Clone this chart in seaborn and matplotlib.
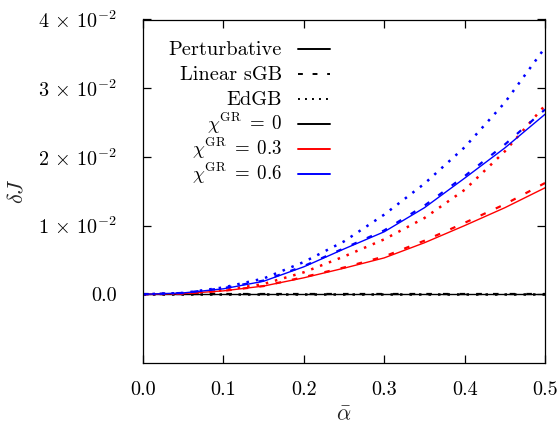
import matplotlib
matplotlib.use("Agg")
import matplotlib.pyplot as plt
from matplotlib.lines import Line2D
import seaborn as sns
import numpy as np

sns.set_theme(style="ticks")
plt.rcParams['font.family'] = ['cmr10', 'DejaVu Serif']
plt.rcParams['mathtext.fontset'] = 'cm'
plt.rcParams['axes.formatter.use_mathtext'] = True

alpha = [0.0, 0.05, 0.1, 0.15, 0.2, 0.25, 0.3, 0.35, 0.4, 0.45, 0.5]

# chi^GR = 0 : all vanish
pert_0 = [0.0] * 11
lin_0 = [0.0] * 11
edgb_0 = [0.0] * 11

# chi^GR = 0.3
pert_03 = [0.0, 0.0001, 0.0005, 0.0012, 0.0024, 0.0038, 0.0053, 0.0075, 0.0100, 0.0126, 0.0155]
lin_03 = [0.0, 0.0001, 0.0005, 0.0012, 0.0025, 0.0039, 0.0055, 0.0078, 0.0104, 0.0131, 0.0162]
edgb_03 = [0.0, 0.0001, 0.0006, 0.0015, 0.0032, 0.0055, 0.0080, 0.0111, 0.0152, 0.0208, 0.0275]

# chi^GR = 0.6
pert_06 = [0.0, 0.0002, 0.0008, 0.0019, 0.0040, 0.0066, 0.0091, 0.0126, 0.0169, 0.0213, 0.0262]
lin_06 = [0.0, 0.0002, 0.0009, 0.0020, 0.0041, 0.0067, 0.0093, 0.0129, 0.0172, 0.0218, 0.0269]
edgb_06 = [0.0, 0.0002, 0.0010, 0.0023, 0.0047, 0.0077, 0.0116, 0.0161, 0.0214, 0.0279, 0.0359]

models = ["Perturbative", "Linear sGB", "EdGB"]
chi_labels = [r"$\chi^{\rm GR}\;=\;0$", r"$\chi^{\rm GR}\;=\;0.3$", r"$\chi^{\rm GR}\;=\;0.6$"]
colors = ["black", "#ff0000", "#0000ff"]

series = {
    (0, 0): pert_0, (0, 1): lin_0, (0, 2): edgb_0,
    (1, 0): pert_03, (1, 1): lin_03, (1, 2): edgb_03,
    (2, 0): pert_06, (2, 1): lin_06, (2, 2): edgb_06,
}

style_ls = {0: "-", 1: (0, (2.5, 5)), 2: (0, (1, 2.8))}
style_lw = {0: 1.0, 1: 1.6, 2: 1.8}

xticks = [0.0, 0.1, 0.2, 0.3, 0.4, 0.5]
xticklabels = ["0.0", "0.1", "0.2", "0.3", "0.4", "0.5"]
yticks = [0.0, 0.01, 0.02, 0.03, 0.04]
yticklabels = ["0.0", r"$1\,\times\,10^{-2}$", r"$2\,\times\,10^{-2}$",
               r"$3\,\times\,10^{-2}$", r"$4\,\times\,10^{-2}$"]

W, H = 557, 426
L, R, T, B = 143, 545, 19.5, 363
fig = plt.figure(figsize=(W / 100, H / 100), dpi=100)
ax = fig.add_axes([L / W, 1 - B / H, (R - L) / W, (B - T) / H])

for (ci, mi), vals in series.items():
    sns.lineplot(x=alpha, y=vals, ax=ax, color=colors[ci], linestyle=style_ls[mi],
                 linewidth=style_lw[mi], legend=False)

ax.set_xlim(0, 0.5)
ax.set_ylim(-0.01, 0.04)
ax.set_xticks(xticks)
ax.set_xticklabels(xticklabels)
ax.set_yticks(yticks)
ax.set_yticklabels(yticklabels)
ax.tick_params(direction="in", length=6, width=0.9, top=True, right=True,
               labelsize=14.5, colors="black")
ax.tick_params(axis="y", pad=19)
ax.tick_params(axis="x", pad=13)
for s in ax.spines.values():
    s.set_linewidth(0.9)
    s.set_color("black")

ax.set_xlabel(r"$\bar{\alpha}$", fontsize=16, labelpad=5)
ax.set_ylabel(r"$\delta J$", fontsize=16, labelpad=8)

# key (drawn in axes coordinates, uniform row spacing)
def axx(px):
    return (px - L) / (R - L)

def axy(py):
    return (B - py) / (B - T)

key_labels = models + chi_labels
key_sizes = [14.7, 14.7, 14.7, 13.6, 13.6, 13.6]
key_colors = ["black", "black", "black", "black", "#ff0000", "#0000ff"]
key_styles = ["-", (0, (2.5, 5)), (0, (1, 2.6)), "-", "-", "-"]
row0, dy = 49.3, 25.0
for i, (lab, fs, col, ls) in enumerate(zip(key_labels, key_sizes, key_colors, key_styles)):
    yl = row0 + i * dy
    ax.text(axx(282), axy(yl + 5.5), lab, transform=ax.transAxes, ha="right",
            va="baseline", fontsize=fs, color="black")
    ax.add_line(Line2D([axx(298), axx(330)], [axy(yl), axy(yl)], transform=ax.transAxes,
                       color=col, linestyle=ls, linewidth=1.4))

fig.savefig("out.png", dpi=100)
